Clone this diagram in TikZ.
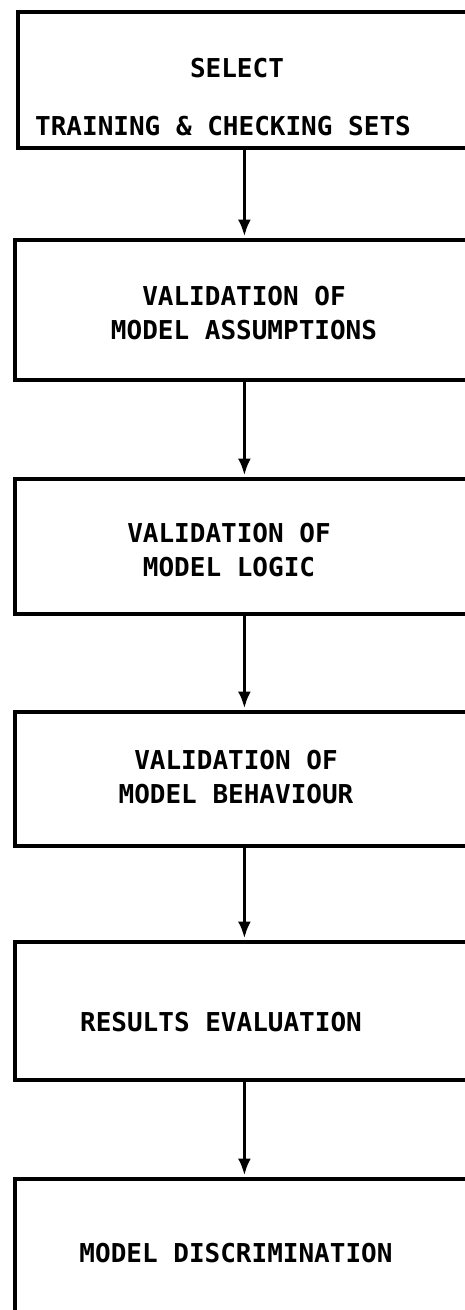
\documentclass[tikz,border=0pt]{standalone}
\usepackage{fontspec}
\setmonofont{DejaVu Sans Mono}
\usetikzlibrary{arrows.meta}
\tikzset{
  stage/.style={draw, line width=3.8pt, anchor=north west, minimum width=459pt, inner sep=0pt},
  caption/.style={font=\ttfamily\bfseries\fontsize{26}{34}\selectfont, align=center, inner sep=0pt},
  flow/.style={line width=3.5pt, shorten >=1.5pt, -{Latex[length=17pt,width=13pt]}}
}
\begin{document}
\begin{tikzpicture}[x=1pt, y=-1pt]
\useasboundingbox (0,0) rectangle (464,1310);
% the six stages, top to bottom
\node[stage, minimum width=453pt, minimum height=136pt] (select) at (16,10) {};
\node[stage, minimum height=140pt] (assump) at (13,238) {};
\node[stage, minimum height=135pt] (logic) at (13,477) {};
\node[stage, minimum height=134pt] (behav) at (13,710) {};
\node[stage, minimum height=138pt] (results) at (13,940) {};
\node[stage, minimum height=160pt] (discrim) at (13,1177) {};
% texts
\node[caption] (t1a) at (237,68) {SELECT};
\node[caption] (t1b) at (223,126) {TRAINING \& CHECKING SETS};
\node[caption] (t2) at (244,313) {VALIDATION OF\\MODEL ASSUMPTIONS};
\node[caption] (t3) at (229,550) {VALIDATION OF\\MODEL LOGIC};
\node[caption] (t4) at (236,777) {VALIDATION OF\\MODEL BEHAVIOUR};
\node[caption] (t5) at (221,1022) {RESULTS EVALUATION};
\node[caption] (t6) at (236,1253) {MODEL DISCRIMINATION};
% arrows
\draw[flow] (select.south) -- (assump.north);
\draw[flow] (assump.south) -- (logic.north);
\draw[flow] (logic.south) -- (behav.north);
\draw[flow] (behav.south) -- (results.north);
\draw[flow] (results.south) -- (discrim.north);
\end{tikzpicture}
\end{document}
